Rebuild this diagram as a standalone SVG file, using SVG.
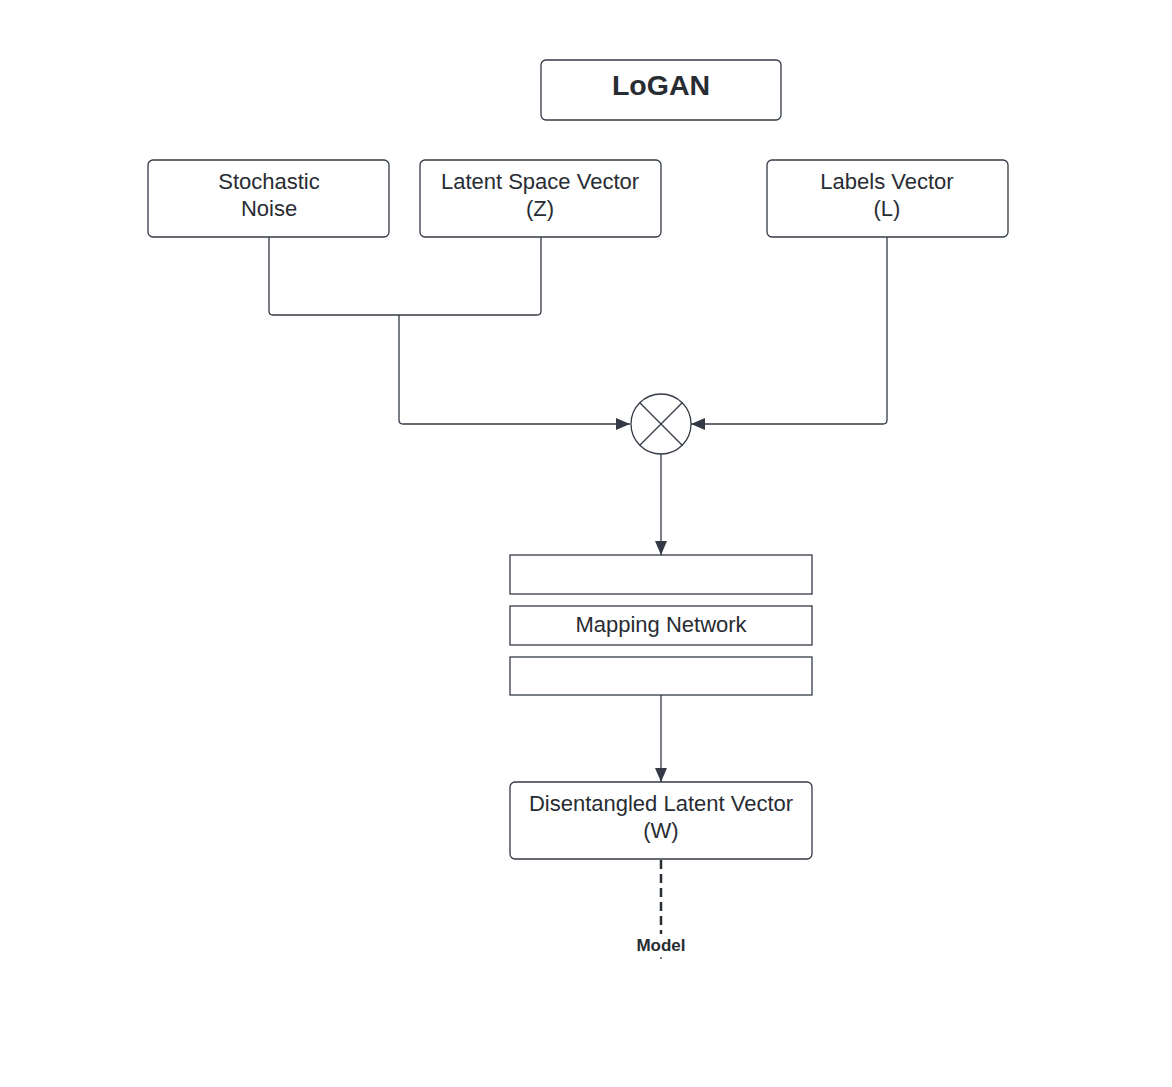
<svg xmlns="http://www.w3.org/2000/svg" width="1172" height="1087" viewBox="0 0 1172 1087">
<style>
.box{fill:#fff;stroke:#333a45;stroke-width:1.3}
.t{font-family:"Liberation Sans",Arial,sans-serif;font-size:22px;fill:#282c33;text-anchor:middle}
.b{font-weight:bold}
.big{font-size:28.5px}
.sm{font-size:17px}
.c{fill:none;stroke:#333a45;stroke-width:1.3}
.d{fill:none;stroke:#282c33;stroke-width:2.5;stroke-dasharray:9,5}
</style>
<defs>
<marker id="ah" viewBox="0 0 14 14" refX="14" refY="7" markerWidth="14" markerHeight="14" markerUnits="userSpaceOnUse" orient="auto">
<path d="M0,1 L14,7 L0,13 Z" fill="#333a45"/>
</marker>
</defs>
<rect width="1172" height="1087" fill="#fff"/>
<g id="connectors">
<path class="c" d="M269,237 V311 Q269,315 273,315 H537 Q541,315 541,311 V237"/>
<path class="c" d="M399,315 V420 Q399,424 403,424 H630" marker-end="url(#ah)"/>
<path class="c" d="M887,237 V420 Q887,424 883,424 H691" marker-end="url(#ah)"/>
<path class="c" d="M661,454 V555" marker-end="url(#ah)"/>
<path class="c" d="M661,695 V782" marker-end="url(#ah)"/>
<path class="d" d="M661,860 V934"/>
<path class="c" d="M661,957 V959" stroke-width="1.5"/>
</g>
<g id="logan"><rect class="box" x="541" y="60" width="240" height="60" rx="5"/><text class="t b big" x="661" y="95">LoGAN</text></g>
<g id="noise"><rect class="box" x="148" y="160" width="241" height="77" rx="5"/><text class="t" x="269" y="189">Stochastic</text><text class="t" x="269" y="216">Noise</text></g>
<g id="latent"><rect class="box" x="420" y="160" width="241" height="77" rx="5"/><text class="t" x="540" y="189">Latent Space Vector</text><text class="t" x="540" y="216">(Z)</text></g>
<g id="labels"><rect class="box" x="767" y="160" width="241" height="77" rx="5"/><text class="t" x="887" y="189">Labels Vector</text><text class="t" x="887" y="216">(L)</text></g>
<g id="combine"><circle class="box" cx="661" cy="424" r="30"/><path class="c" d="M639.8,402.8 L682.2,445.2 M682.2,402.8 L639.8,445.2"/></g>
<g id="map1"><rect class="box" x="510" y="555" width="302" height="39"/></g>
<g id="map2"><rect class="box" x="510" y="606" width="302" height="39"/><text class="t" x="661" y="632">Mapping Network</text></g>
<g id="map3"><rect class="box" x="510" y="657" width="302" height="38"/></g>
<g id="w"><rect class="box" x="510" y="782" width="302" height="77" rx="5"/><text class="t" x="661" y="811">Disentangled Latent Vector</text><text class="t" x="661" y="838">(W)</text></g>
<g id="model"><text class="t b sm" x="661" y="951">Model</text></g>
</svg>
